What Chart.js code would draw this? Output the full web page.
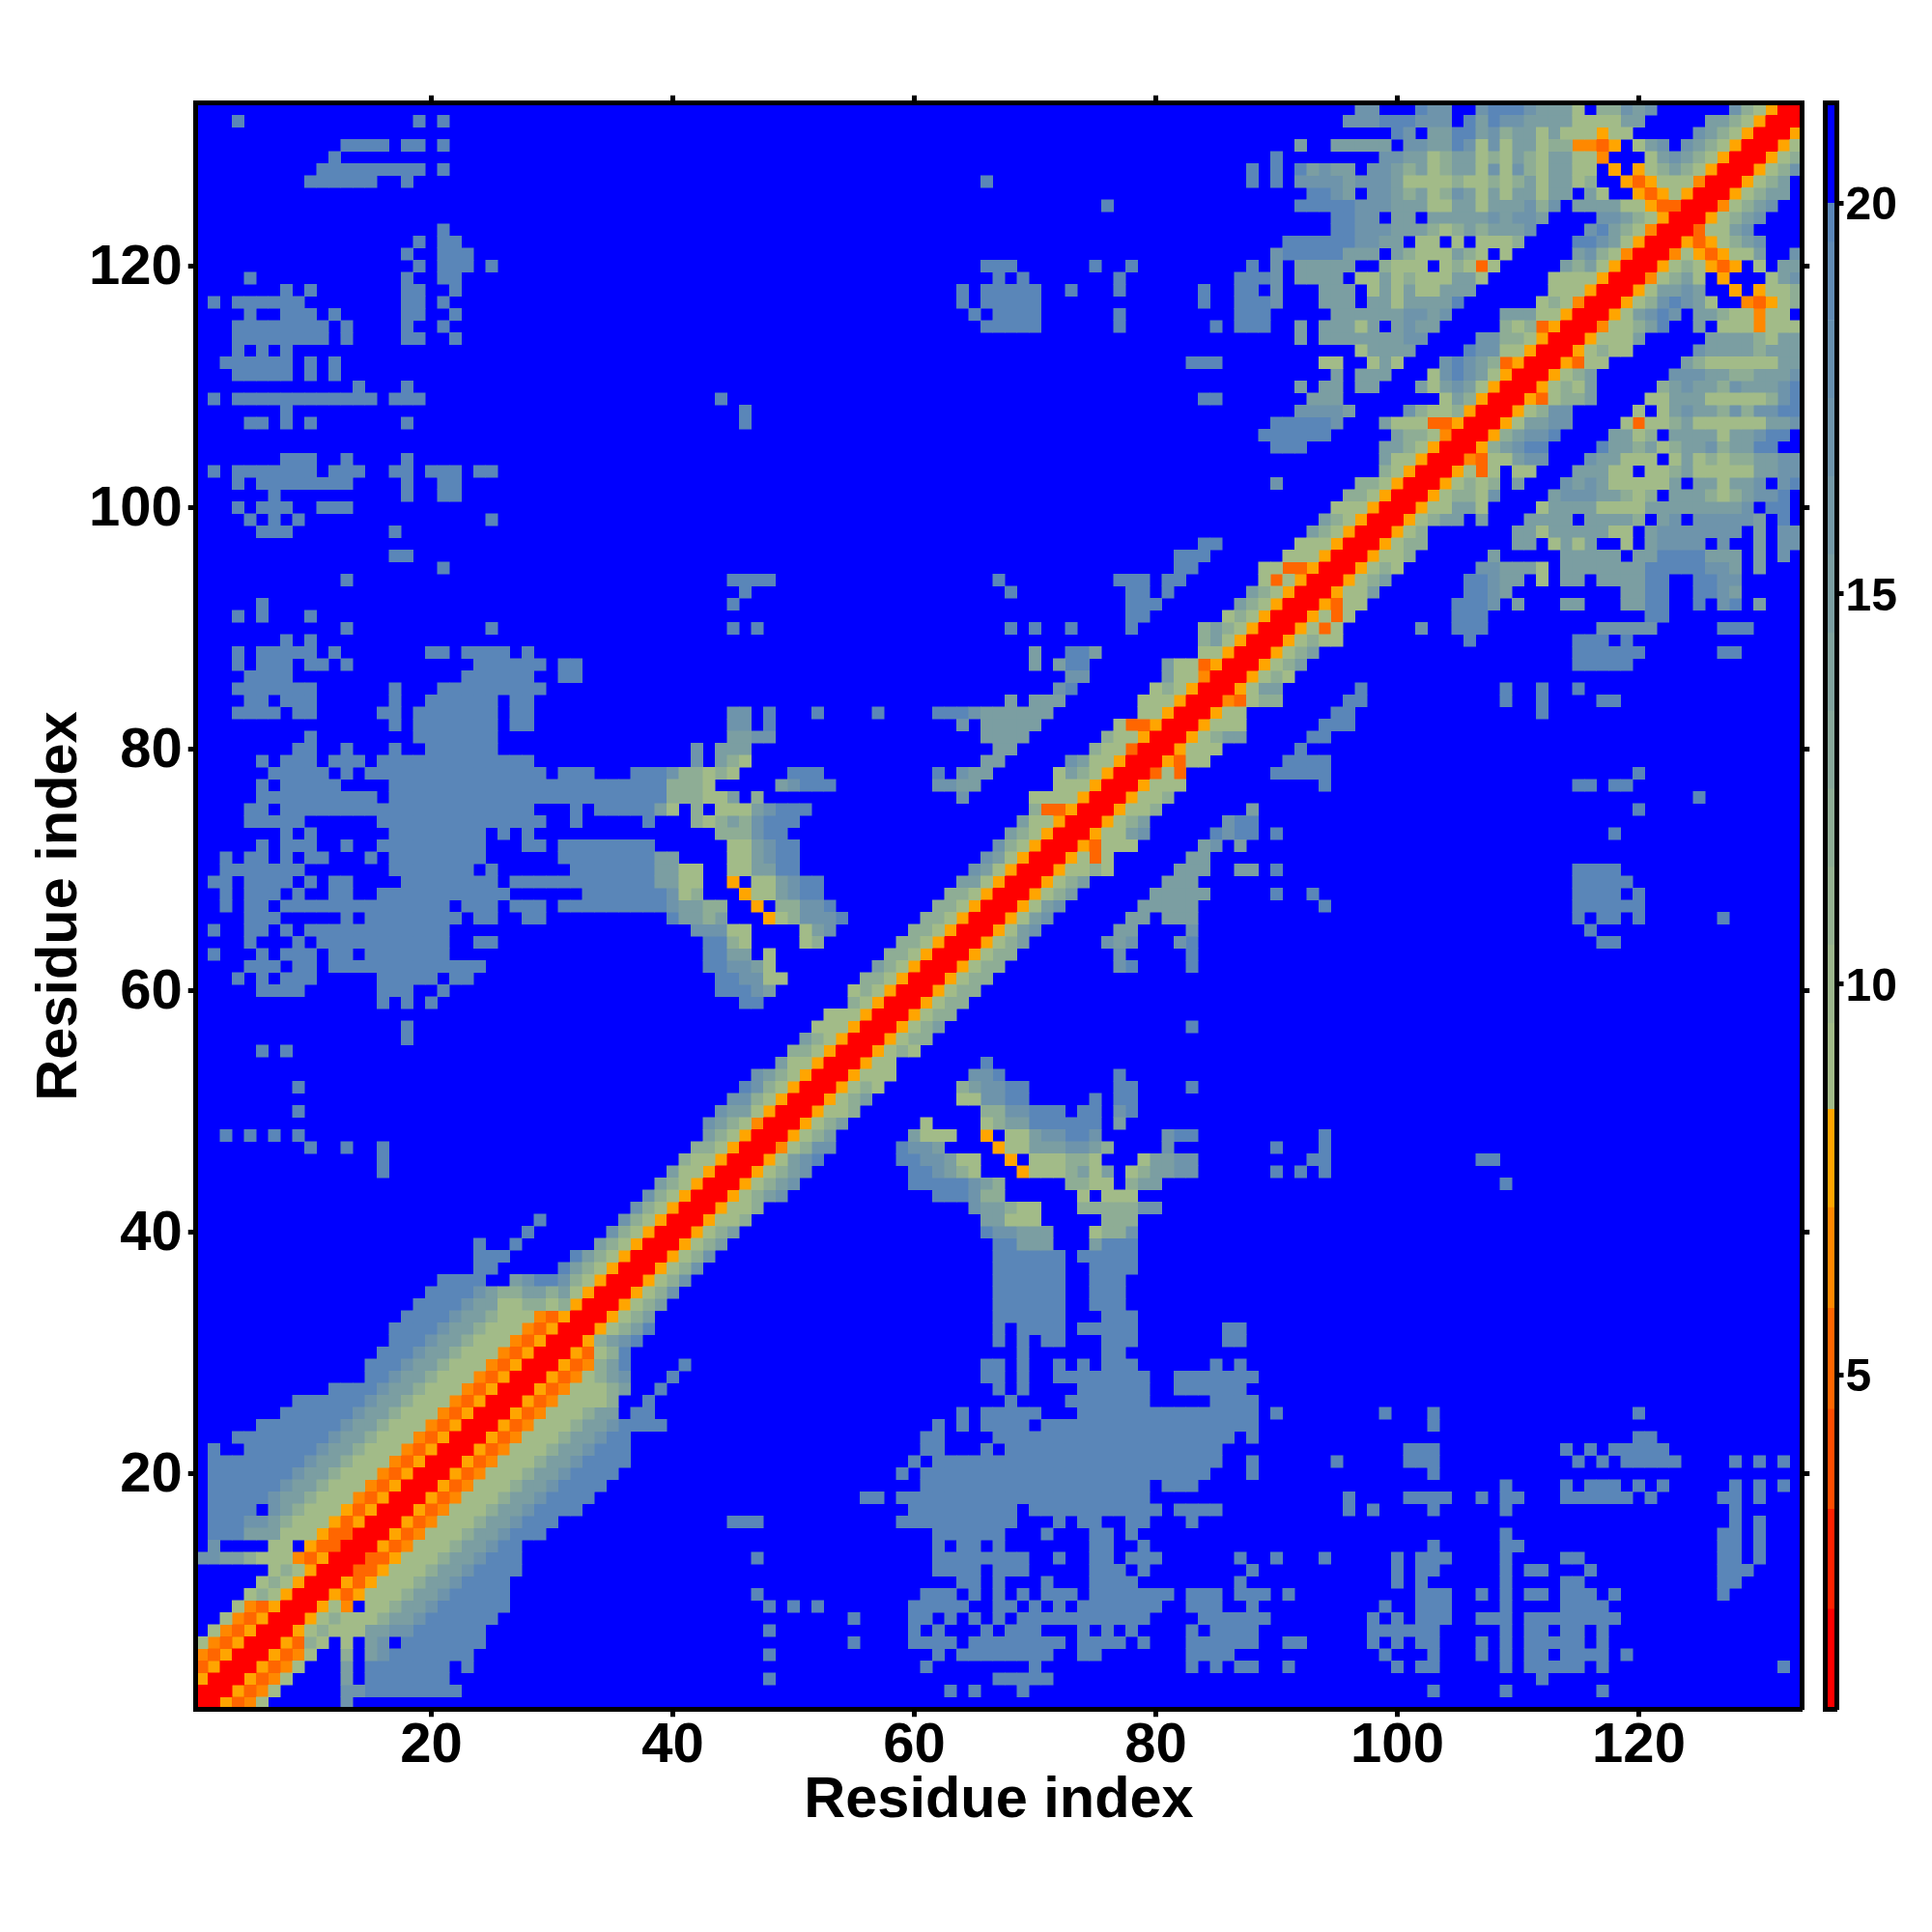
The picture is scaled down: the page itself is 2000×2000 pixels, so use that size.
<!DOCTYPE html>
<html><head><meta charset="utf-8">
<script src="https://cdn.jsdelivr.net/npm/chart.js@4/dist/chart.umd.js"></script>
<style>html,body{margin:0;padding:0;background:#fff}canvas{position:absolute;top:0}</style>
</head><body>
<canvas id="map" width="2000" height="2000" style="left:0"></canvas>
<canvas id="bar" width="130" height="2000" style="left:1870px"></canvas>
<script>
// Residue indices and tick labels
const residueCount = 133;
const axisTicks = [20, 40, 60, 80, 100, 120];
const colorbarTicks = [5, 10, 15, 20];
const axisTitle = 'Residue index';

// Distance represented by each symbol used in the rows below
const levelValues = {r:1.4, c:5.2, b:6.5, o:7.8, '1':9, '2':12, '3':15, '4':17, '5':19.8, '.':21};

// Colour bar bands
const colorbarEdges = [0.72,2.0,3.28,4.56,5.85,7.14,8.4,9.5,10.5,11.5,12.5,13.5,14.5,15.5,16.5,17.5,18.5,19.5,20,21.28];
const colorbarColors = ['#FF0000','#FF2200','#FF4D00','#FF6600','#FF8800','#FFA500',
  '#A2BB88','#9CB68C','#95B191','#8EAD95','#88A89A','#81A39E','#7B9EA2','#7499A7','#6E94AB','#6790AF','#618BB4','#5A86B8','#0000FF'];

// Row y, starting at the diagonal: one symbol per residue x = y, y+1, y+2 ...
const diagonalRows = [
"rrocb1","rrocb1","rrocb1","rrocb1","rrocb1","rroc21","rro12111334 4555555","rro121112334555555",
"rro1b.112334555555","rroco111233455555","rroco11123345555","rrcco11123345555","rrcco1112334555","rrocb111233455",
"rrocb111233 4555","rrocb1112334555","rrocb11123345555","rrocb11123345555","rrocb11123345555","rrocb11123345555",
"rrocb11123345555","rrocb111233 4555","rrocb111233455","rrocb11123345555","rrocb111233.55","rrocb11112..5",
"rrocb11123..5","rrocb1234...5","rrocb235....5","rroc125","rro2345","rro1235","rro123","rro123","rro124","rro124",
"rro124","rro124","rro123","rro123","rro112","rro112","rro1234","rro1234","rro1234","rro1345","rrb1244","rro123",
"rro123","rro112","rro123","rro121","rro111","rro11","rro121","rro122","rro123","rro122","rro122","rro122",
"rro122","rro122","rro122","rro123","rro134","rro134","rro134","rro123","rro123","rro1121","rro1c1","rroc111",
"rro1134","rro123","rro112","rro112","rro111","rrc1c","rroc11","rro111","rro1233","rro111","rro11","rrbc122",
"rro133","rro121","rro123","rro123","rro1211","rro1c1","rro1c1",
"rroc11.......5554.3...33...3355..5.45.3",
"rro113.......5543.........3355..554 3",
"rro123......5543 3.1.33.33335 5..5544",
"rro121......4433 31.333333355555443.3...",
"rro112......3.....33333.335555333.3.4.",
"rro122.......33.1313..1.34444.4..3.44",
"rro12.......3313333311.34444444.3.44",
"rro1233.3...3333.33332.34.444443.5.",
"rro11331....133331111333333334.55",
"rro12214....344433212.3332123445.",
"rro1212.3...4343111113.331334.45",
"rro1c1.11...33311.1123111113344",
"rrbc11344...433111.13121223344",
"rro23455....533231233423355..",
"rro23445....3312.3333133455.",
"rro13344....1c1123111111334",
"rro1244.....1.134332424455",
"rroc1223....1133311111245",
"rro1213.....234332433345",
"rro123......44433223334",
"rroc11......3211111133",
"rro1211.....433332333",
"rro1113.....33332133",
"rrb11235..3.111b111",
"rro13454.33211b11.",
"rro1245431..bco12",
"rro13343..o.o112",
"rrb1231.o...134",
"rro121oco.1.33",
"rrb1oco113..4",
"rroco1234","rrc1134","rro1234","rrb1234","rro1233","rro123","rro124","rro12","rro1","rro","rr","r"
].map(s => s.replace(/ /g,''));

// Row y, away from the diagonal: residues x (or ranges), ":n" gives the symbol when it is not 5
const distantRows = {
1:"13:4",
2:"13:4 14:4 15-22 63 65 69 103 109 117",
3:"13:3 15-21 48 67-71 112",
4:"13:3 15-21 23 61 70 83 85 87-88 91 100 102-103 109 111-115 117 132",
5:"13:2 15:3 16:4 17-23 48 62 64-71 74-75 83-86 99 103 107 109 111-112 114-117 119",
6:"13:1 15:3 16:4 18-24 55 60-63 65-72 74-77 79 83-88 91-92 98 100 102-103 107 109 111-115 117",
7:"48 60 62 66 68-70 74 76 78 83 85-88 98-103 109 111-112 114-115 117",
8:"55 60-61 63 65 67 69-79 84-89 98 100 102-104 107-109 111-118",
9:"48 50 52 60-64 67-68 70 72 74-80 83-85 88 99 102-104 109 114-117",
10:"47 61-63 65 67 69 71-73 75-81 83-85 87-89 91 102-104 107 109 111-112 114-116 118 127",
11:"64-65 67 71 75-78 87 100 102 109 114-115 127-128",
12:"62-65 67-69 75-77 79 88 100 102-103 109 111-112 116 127-129",
13:"47 62-69 72 75-76 78-80 87 90 94 100 102-104 109 114-115 127-128 130",
14:"62 64-65 67 75-76 79 103 109-110 127-128 130",
15:"62-67 71 75-76 78 109 127-128 130",
16:"45-47 59-68 72 74-75 78-79 83 128 130",
17:"60-68 70-80 82-85 96 98 103 109 128",
18:"56-57 59-79 96 101-104 107 109-110 114-119 121 127-128 130",
19:"61-79 81-83 109 114 116-118 120 122 128 130 132",
20:"59 61-84 88 103",
21:"60 62-85 88 95 101-103 115 117 119-123 128 130 132",
22:"61-62 66 68-85 101-103 114 116 118-122",
23:"61-62 67-86 88 120-121",
24:"62 64 66-69 71-88 103",
25:"64 66-70 74-88 90 99 103 120",
26:"68 73-79 85-88",
27:"67 69 74-79 82-87",
28:"66-67 69 72-79 82-88",
29:"66-67 69 72 74 76-78 85 87",
30:"69 76-77",
31:"67 69 71-72 76-78 86-87",
32:"67 69-72 74-78 86-87",
33:"67-72 76-78",
34:"67-72 75-77",
35:"67-72 75-77",
36:"67-72 75-77",
37:"67-72 75-78",
38:"67-72 74-78",
39:"67-68 69-71:3 75:3 76-78",
40:"66 67-68:4 69-71:3 75:1 76-77:2 78:4",
41:"66-67:3 68-70:1 76-78:2",
42:"65:4 66-67:3 68:2 69-70:1 74-78:2 79-80:4",
43:"62-64 65:4 66-67:2 74:1 76-78:1",
44:"60-64 65:4 66:3 67:2 73-74:2 75-76:1 78:2 79-80:3 109",
45:"60-61 62:4 63:3 64:2 65:1 69:o 70-72:1 73:2 74:3 75:1 76:3 78:1 79:2 80-81:3 82-83:4 90 92 94",
46:"59-60 61-62:4 63:3 64-65:1 68:o 70-72:1 73-74:2 75:1 79:1 80-81:3 82-83:4 93-94 107-108",
47:"59 60-61:4 62:3 67:o 68-69:1 70-72:3 73-74:4 75:3 76:2 81:4 90 94",
48:"60:3 61-63:1 66:o 68-69:1 70:3 71-72:4 73-74 75:4 81:4 82-83 94",
49:"61:1 66:1 67:2 68-69:3 70-75 77:3",
50:"66-67:2 68-69:4 70-72 74-75 77:4 78",
51:"64-65:1 66-67:4 68-69 75 77-78",
52:"64:2 65:3 66-67:4 68-69 77-78 83",
53:"65-66:4 67 77",
54:"66",
57:"83",
62:"77:4 78 83",
63:"77:4 83",
64:"76:4 77:3 78:4 82:4 83 117-118",
65:"77-78:3 83:4 116",
66:"78-79:3 81-83:3 115 117-118 120 127",
67:"79-83:3 94 115-120",
68:"80-84:3 90 93 115-118 120",
69:"81-83:3 115-119",
70:"82-84:3 87-88:3 90 115-118",
71:"83-84:3",
72:"84:3 85:4 87:3",
73:"85 86:4 87-88 90 118",
74:"86:4 87-88",
75:"88:3 120",
76:"125",
77:"94 115-116 118-119",
78:"90-94 120",
79:"91-94",
80:"92",
81:"93-94",
82:"94-96",
83:"95-96 112",
84:"96-97 109 112 117-118",
85:"97 109 112 115",
87:"115-119",
88:"115-120 127-128",
89:"106 115-117 119",
90:"102:4 105-107 117-121:4 127-129",
91:"105-107 121-122"
};

// --- build the symmetric matrix from the rows ---
const matrix = Array.from({length:residueCount+1},()=>Array(residueCount+1).fill('.'));
const setCell = (x,y,s)=>{ if(x<=residueCount && y<=residueCount){ matrix[y][x]=s; matrix[x][y]=s; } };
diagonalRows.forEach((row,i)=>{ const y=i+1; [...row].forEach((s,d)=>setCell(y+d,y,s)); });
Object.entries(distantRows).forEach(([y,txt])=>{
  txt.split(' ').forEach(tok=>{
    const [span,sym] = tok.split(':');
    const [a,b] = span.split('-').map(Number);
    for(let x=a;x<=(b||a);x++) setCell(x,+y,sym||'5');
  });
});
const colorFor = v => { for(let i=0;i<colorbarColors.length;i++){ if(v<colorbarEdges[i+1]) return colorbarColors[i]; } return colorbarColors[colorbarColors.length-1]; };
const groups = {};
for(let y=1;y<=residueCount;y++) for(let x=1;x<=residueCount;x++){
  const s=matrix[y][x]; (groups[s]=groups[s]||[]).push({x,y});
}
const FONT='"Liberation Sans", Arial, sans-serif';
const cellRadius = 6.5*Math.SQRT2;
const mapDatasets = Object.keys(levelValues).filter(s=>groups[s]).map(s=>({
  label:'d'+levelValues[s], data:groups[s], backgroundColor:colorFor(levelValues[s]),
  pointStyle:'rect', pointRadius:cellRadius, pointHoverRadius:cellRadius, pointBorderWidth:0, borderWidth:0, clip:0
}));

const sized = (prop,val)=> s=>{ s[prop]=val; };
const ticksFrom = arr => s=>{ s.ticks = arr.map(v=>({value:v})); };
const frameGrid = {drawOnChartArea:false, tickLength:8, tickWidth:5, tickColor:'#000'};
const frameBorder = {display:true, width:5, color:'#000', z:1};
const bold = size => ({family:FONT, size, weight:'bold', lineHeight:1});
const axisBase = {type:'linear', min:0.5, max:133.5, grid:frameGrid, border:frameBorder};

new Chart(document.getElementById('map'),{
  type:'scatter',
  data:{datasets:mapDatasets},
  options:{
    responsive:false, animation:false, events:[],
    layout:{padding:0},
    plugins:{legend:{display:false},tooltip:{enabled:false},title:{display:false}},
    scales:{
      x:{...axisBase, position:'bottom', afterFit:sized('height',230.75), afterBuildTicks:ticksFrom(axisTicks),
         ticks:{color:'#000',font:bold(58),padding:2,maxRotation:0,autoSkip:false},
         title:{display:true,text:axisTitle,color:'#000',font:bold(59.5),padding:{top:0,bottom:106}}},
      x2:{...axisBase, axis:'x', position:'top', afterFit:sized('height',106.75), afterBuildTicks:ticksFrom(axisTicks),
         ticks:{display:false}},
      y:{...axisBase, position:'left', afterFit:sized('width',202.75), afterBuildTicks:ticksFrom(axisTicks),
         ticks:{color:'#000',font:bold(58),padding:6,autoSkip:false,labelOffset:2.5},
         title:{display:true,text:axisTitle,color:'#000',font:bold(59.5),padding:{top:33,bottom:0}}},
      y2:{...axisBase, axis:'y', position:'right', afterFit:sized('width',134.75), afterBuildTicks:ticksFrom(axisTicks),
         ticks:{display:false}}
    }
  }
});

// Colour bar
const barDatasets = colorbarColors.map((c,i)=>({data:[[colorbarEdges[i],colorbarEdges[i+1]]],backgroundColor:c,borderWidth:0,barPercentage:1,categoryPercentage:1}));
const barAxis = {min:0.72,max:21.28,grid:{drawOnChartArea:false,drawTicks:false},border:frameBorder};
new Chart(document.getElementById('bar'),{
  type:'bar',
  data:{labels:[''],datasets:barDatasets},
  options:{
    responsive:false, animation:false, events:[],
    layout:{padding:0},
    plugins:{legend:{display:false},tooltip:{enabled:false}},
    scales:{
      x:{stacked:true,position:'bottom',afterFit:sized('height',230.75),ticks:{display:false},grid:{drawOnChartArea:false,drawTicks:false},border:frameBorder},
      x2:{axis:'x',type:'category',labels:[''],position:'top',afterFit:sized('height',106.75),ticks:{display:false},grid:{drawOnChartArea:false,drawTicks:false},border:frameBorder},
      y:{type:'linear',position:'right',min:0.72,max:21.28,afterFit:sized('width',98.5),afterBuildTicks:ticksFrom(colorbarTicks),
         grid:{drawOnChartArea:false,tickLength:7,tickWidth:5,tickColor:'#000'},border:frameBorder,
         ticks:{color:'#000',font:bold(48),padding:2,autoSkip:false,labelOffset:4}},
      y2:{...barAxis,type:'linear',axis:'y',position:'left',afterFit:sized('width',19.5),ticks:{display:false}}
    }
  }
});
</script>
</body></html>
